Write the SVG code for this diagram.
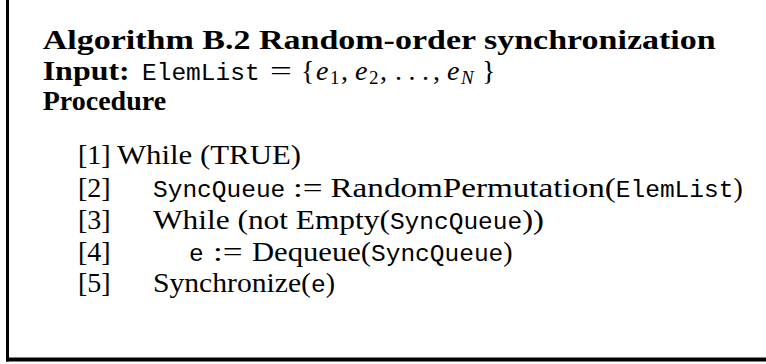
<svg xmlns="http://www.w3.org/2000/svg" width="766" height="364" viewBox="0 0 766 364">
<style>
.rm{font-family:"Liberation Serif","Times New Roman",serif;font-size:28px;fill:#000}
.bf{font-family:"Liberation Serif","Times New Roman",serif;font-size:28px;font-weight:bold;fill:#000}
.tt{font-family:"Liberation Mono","Courier New",monospace;font-size:24.5px;fill:#000}
.mi{font-family:"Liberation Serif","Times New Roman",serif;font-size:28px;font-style:italic;fill:#000}
.sub{font-family:"Liberation Serif","Times New Roman",serif;font-size:19px;fill:#000}
.subi{font-family:"Liberation Serif","Times New Roman",serif;font-size:19px;font-style:italic;fill:#000}
</style>
<rect width="766" height="364" fill="#fff"/>
<g id="frame" fill="#000">
<rect x="6" y="0" width="3" height="361.5"/>
<rect x="6" y="357.5" width="760" height="4"/>
</g>
<g id="header">
<text class="bf" x="42.7" y="49" textLength="673" lengthAdjust="spacingAndGlyphs">Algorithm B.2 Random-order synchronization</text>
<text class="bf" x="42.7" y="80" textLength="87" lengthAdjust="spacingAndGlyphs">Input:</text>
<text class="tt" x="142" y="80" textLength="117.6" lengthAdjust="spacingAndGlyphs">ElemList</text>
<text class="rm" x="270" y="80" textLength="21.8" lengthAdjust="spacingAndGlyphs">=</text>
<text class="rm" x="301" y="80">{</text>
<text class="mi" x="316" y="80" font-size="30">e</text><text class="sub" x="330" y="84">1</text><text class="rm" x="341" y="80">,</text>
<text class="mi" x="355" y="80" font-size="30">e</text><text class="sub" x="369" y="84">2</text><text class="rm" x="380" y="80">,</text>
<text class="rm" x="395" y="80" textLength="34" lengthAdjust="spacing">. . .</text><text class="rm" x="433" y="80">,</text>
<text class="mi" x="447" y="80" font-size="30">e</text><text class="subi" x="461" y="84" font-size="20">N</text>
<text class="rm" x="482" y="80">}</text>
<text class="bf" x="42.7" y="110">Procedure</text>
</g>
<g id="line1">
<text class="rm" x="78" y="164">[1]</text>
<text class="rm" x="117" y="164" textLength="184" lengthAdjust="spacingAndGlyphs">While (TRUE)</text>
</g>
<g id="line2">
<text class="rm" x="78" y="196.5">[2]</text>
<text class="tt" x="153" y="196.5" textLength="132.3" lengthAdjust="spacingAndGlyphs">SyncQueue</text>
<text class="rm" x="293.1" y="196.5" textLength="29.6" lengthAdjust="spacingAndGlyphs">:=</text>
<text class="rm" x="330.5" y="196.5" textLength="285.3" lengthAdjust="spacingAndGlyphs">RandomPermutation(</text>
<text class="tt" x="615.8" y="196.5" textLength="117.6" lengthAdjust="spacingAndGlyphs">ElemList</text>
<text class="rm" x="733.4" y="196.5">)</text>
</g>
<g id="line3">
<text class="rm" x="78" y="228.5">[3]</text>
<text class="rm" x="153" y="228.5" textLength="236.9" lengthAdjust="spacingAndGlyphs">While (not Empty(</text>
<text class="tt" x="389.9" y="228.5" textLength="132.3" lengthAdjust="spacingAndGlyphs">SyncQueue</text>
<text class="rm" x="522.2" y="228.5" textLength="21.8" lengthAdjust="spacingAndGlyphs">))</text>
</g>
<g id="line4">
<text class="rm" x="78" y="261">[4]</text>
<text class="tt" x="189" y="261" textLength="14.7" lengthAdjust="spacingAndGlyphs">e</text>
<text class="rm" x="213" y="261" textLength="29.6" lengthAdjust="spacingAndGlyphs">:=</text>
<text class="rm" x="252" y="261" textLength="119" lengthAdjust="spacingAndGlyphs">Dequeue(</text>
<text class="tt" x="371" y="261" textLength="132.3" lengthAdjust="spacingAndGlyphs">SyncQueue</text>
<text class="rm" x="503.3" y="261">)</text>
</g>
<g id="line5">
<text class="rm" x="78" y="292">[5]</text>
<text class="rm" x="153" y="292" textLength="158" lengthAdjust="spacingAndGlyphs">Synchronize(</text>
<text class="tt" x="311" y="292" textLength="14.7" lengthAdjust="spacingAndGlyphs">e</text>
<text class="rm" x="325.7" y="292">)</text>
</g>
</svg>
